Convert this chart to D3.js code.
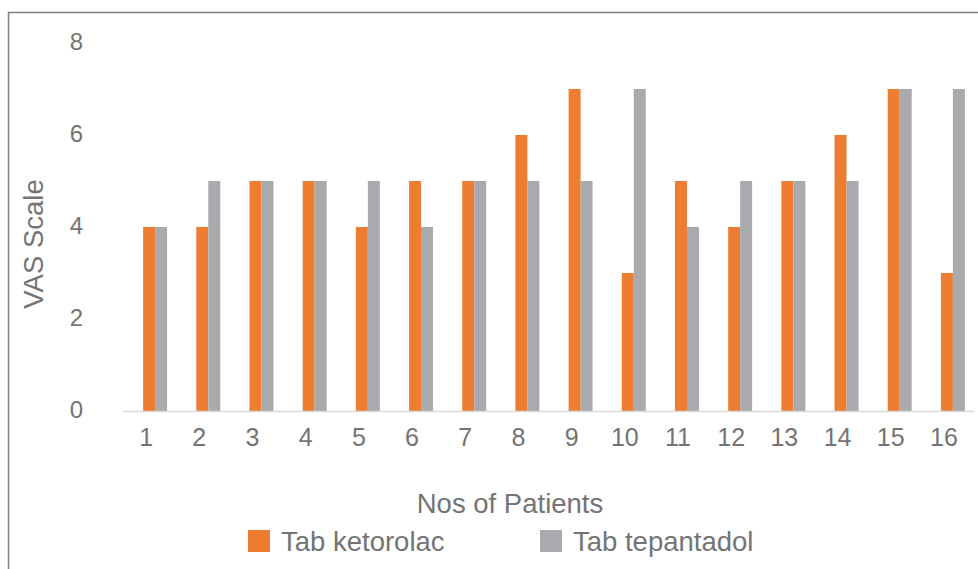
<!DOCTYPE html>
<html><head><meta charset="utf-8">
<script src="https://cdn.jsdelivr.net/npm/d3@7"></script>
<style>body{margin:0;background:#fff;}svg{display:block;font-family:"Liberation Sans",Arial,sans-serif;}</style>
</head><body>
<svg id="c" width="978" height="569"></svg>
<script>
const categories = ["1","2","3","4","5","6","7","8","9","10","11","12","13","14","15","16"];
const seriesNames = ["Tab ketorolac","Tab tepantadol"];
const ketorolac = [4,4,5,5,4,5,5,6,7,3,5,4,5,6,7,3];
const tepantadol = [4,5,5,5,5,4,5,5,5,7,4,5,5,5,7,7];
const yTicks = [0,2,4,6,8];
const colors = ["#ED7D31","#A9AAAD"];

const svg = d3.select("#c");
svg.append("rect").attr("x",8.5).attr("y",12.5).attr("width",1000).attr("height",600)
  .attr("fill","none").attr("stroke","#7f7f7f").attr("stroke-width",1.5);

const x0 = d3.scaleBand().domain(categories).range([123,974]).padding(0);
const x1 = d3.scaleBand().domain(seriesNames).range([0,x0.bandwidth()]).paddingInner(0).paddingOuter(1.22);
const y = d3.scaleLinear().domain([0,8]).range([411,43]);

const data = [ketorolac, tepantadol];
const g = svg.append("g").attr("transform","translate(5.5,0)");
seriesNames.forEach((s,si)=>{
  g.selectAll(".b"+si).data(categories).enter().append("rect")
    .attr("x",c=>x0(c)+x1(s))
    .attr("width",x1.bandwidth())
    .attr("y",(c,i)=>y(data[si][i]))
    .attr("height",(c,i)=>y(0)-y(data[si][i]))
    .attr("fill",colors[si]);
});

// baseline
svg.append("line").attr("x1",123).attr("x2",974).attr("y1",y(0)+0.5).attr("y2",y(0)+0.5)
  .attr("stroke","#d9d9d9").attr("stroke-width",1.5);

const txt = "#747474";
const ff = "Liberation Sans, Arial, sans-serif";
// y ticks
const ya = d3.axisLeft(y).tickValues(yTicks).tickSize(0).tickPadding(0);
const yg = svg.append("g").attr("transform","translate(83,-1)").call(ya);
yg.select(".domain").remove();
yg.selectAll("text").attr("fill",txt).attr("font-size",24).attr("font-family",ff);

// x ticks
const xa = d3.axisBottom(x0).tickSize(0).tickPadding(0);
const xg = svg.append("g").attr("transform","translate(-3.5,428)").call(xa);
xg.select(".domain").remove();
xg.selectAll("text").attr("fill",txt).attr("font-size",25).attr("font-family",ff).attr("dy","0.72em");

// axis titles
svg.append("text").attr("x",510).attr("y",513).attr("text-anchor","middle")
  .attr("fill",txt).attr("font-size",27.5).text("Nos of Patients");
svg.append("text").attr("transform","translate(43,244) rotate(-90)").attr("text-anchor","middle")
  .attr("fill",txt).attr("font-size",27.5).text("VAS Scale");

// legend
const legX = [248,540];
seriesNames.forEach((s,i)=>{
  svg.append("rect").attr("x",legX[i]).attr("y",530).attr("width",22).attr("height",22).attr("fill",colors[i]);
  svg.append("text").attr("x",legX[i]+33).attr("y",551).attr("fill",txt).attr("font-size",27.5).text(s);
});
</script>
</body></html>
